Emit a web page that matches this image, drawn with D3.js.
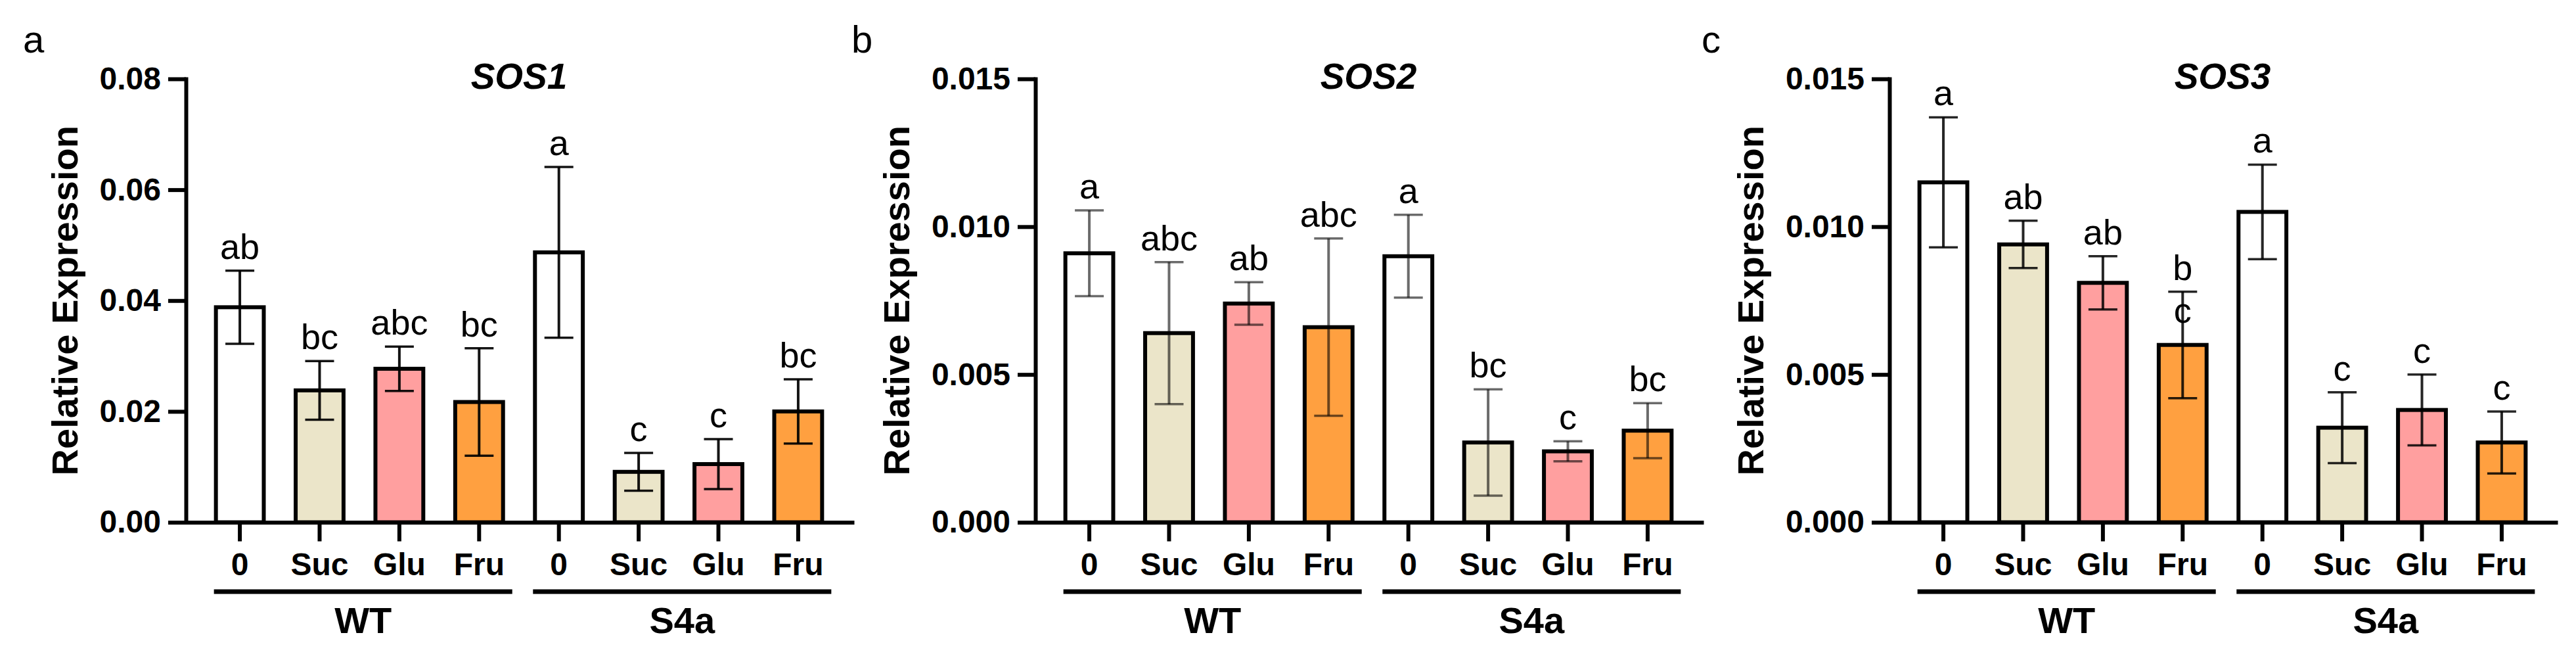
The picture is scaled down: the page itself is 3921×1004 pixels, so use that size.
<!DOCTYPE html>
<html>
<head>
<meta charset="utf-8">
<script src="https://cdn.jsdelivr.net/npm/d3@7"></script>
<style>
  body { margin: 0; background: #fff; }
  svg text { font-family: "Liberation Sans", Arial, Helvetica, sans-serif; }
</style>
</head>
<body>
<svg id="fig" width="3921" height="1004"></svg>
<script>
// ---- data ----
var groups = ["WT", "S4a"];
var treatments = ["0", "Suc", "Glu", "Fru"];
var genes = ["SOS1", "SOS2", "SOS3"];
var panelTags = ["a", "b", "c"];

var sos1Mean = [0.0388, 0.0238, 0.0277, 0.0217, 0.0487, 0.0091, 0.0105, 0.0200];
var sos1Sd   = [0.0066, 0.0053, 0.0040, 0.0097, 0.0154, 0.0034, 0.0045, 0.0058];
var sos1Sig  = ["ab", "bc", "abc", "bc", "a", "c", "c", "bc"];

var sos2Mean = [0.0091, 0.0064, 0.0074, 0.0066, 0.0090, 0.0027, 0.0024, 0.0031];
var sos2Sd   = [0.00145, 0.0024, 0.00072, 0.0030, 0.0014, 0.0018, 0.00034, 0.00093];
var sos2Sig  = ["a", "abc", "ab", "abc", "a", "bc", "c", "bc"];

var sos3Mean = [0.0115, 0.0094, 0.0081, 0.0060, 0.0105, 0.0032, 0.0038, 0.0027];
var sos3Sd   = [0.0022, 0.0008, 0.0009, 0.0018, 0.0016, 0.0012, 0.0012, 0.00105];
var sos3Sig  = ["a", "ab", "ab", "b\nc", "a", "c", "c", "c"];

var sos1Ticks = [0, 0.02, 0.04, 0.06, 0.08];
var sos2Ticks = [0, 0.005, 0.010, 0.015];
var sos3Ticks = [0, 0.005, 0.010, 0.015];

// ---- layout / style ----
var fills = {"0": "#FFFFFF", "Suc": "#EBE5C9", "Glu": "#FF9F9F", "Fru": "#FFA040"};
var panelLeft = [35, 1296, 2590];
var axisX = [283, 1576, 2876];
var errOpacity = [0.92, 0.58, 0.85];
var plotW = 1014, yTop = 120, yBase = 794.5;

var svg = d3.select("#fig");
svg.append("rect").attr("width", 3921).attr("height", 1004).attr("fill", "#fff");

// keys for the band scale, e.g. "WT|Suc"
var keys = [];
groups.forEach(function(g) {
    treatments.forEach(function(t) { keys.push(g + "|" + t); });
});

function drawPanel(i, means, sds, sig, ticks, fmt) {
    var x0 = axisX[i];
    var rows = keys.map(function(k, j) {
        return {key: k, grp: k.split("|")[0], trt: k.split("|")[1],
                mean: means[j], sd: sds[j], sig: sig[j]};
    });

    var x = d3.scaleBand().domain(keys)
        .range([x0, x0 + plotW])
        .paddingInner(0.4).paddingOuter(0.376);
    var y = d3.scaleLinear().domain([0, d3.max(ticks)])
        .range([yBase, yTop]);
    var bw = x.bandwidth();
    var g = svg.append("g");

    // bars
    g.selectAll("rect.bar").data(rows).enter()
        .append("rect").attr("class", "bar")
        .attr("x", d => x(d.key))
        .attr("y", d => y(d.mean))
        .attr("width", bw)
        .attr("height", d => yBase - y(d.mean))
        .attr("fill", d => fills[d.trt])
        .attr("stroke", "#000")
        .attr("stroke-width", 6);

    // error bars (mean +/- sd)
    var eb = g.selectAll("g.err").data(rows).enter()
        .append("g").attr("class", "err")
        .attr("stroke", "#000")
        .attr("stroke-opacity", errOpacity[i]);
    eb.append("line")
        .attr("x1", d => x(d.key) + bw / 2).attr("x2", d => x(d.key) + bw / 2)
        .attr("y1", d => y(d.mean - d.sd)).attr("y2", d => y(d.mean + d.sd))
        .attr("stroke-width", 4);
    [1, -1].forEach(function(s) {
        eb.append("line")
            .attr("x1", d => x(d.key) + bw / 2 - 22).attr("x2", d => x(d.key) + bw / 2 + 22)
            .attr("y1", d => y(d.mean + s * d.sd)).attr("y2", d => y(d.mean + s * d.sd))
            .attr("stroke-width", 3.5);
    });

    // significance letters, wrapped ones run downward
    var lt = g.selectAll("text.sig").data(rows).enter()
        .append("text").attr("class", "sig")
        .attr("x", d => x(d.key) + bw / 2)
        .attr("y", d => y(d.mean + d.sd) - 18)
        .attr("text-anchor", "middle")
        .attr("font-size", 54);
    lt.each(function(d) {
        var t = d3.select(this);
        d.sig.split("\n").forEach(function(s, k) {
            t.append("tspan").attr("x", x(d.key) + bw / 2)
                .attr("dy", k ? "1.2em" : 0).text(s);
        });
    });

    // y axis
    var gy = svg.append("g").attr("transform", "translate(" + x0 + ",0)")
        .call(d3.axisLeft(y).tickValues(ticks).tickFormat(d3.format(fmt))
              .tickSize(27).tickSizeOuter(0).tickPadding(11));
    gy.select(".domain").attr("stroke-width", 6).attr("stroke-linecap", "square");
    gy.selectAll(".tick line").attr("stroke-width", 6);
    gy.selectAll("text").attr("font-size", 48).attr("font-weight", "bold")
        .attr("font-family", null);

    // x axis
    var gx = svg.append("g").attr("transform", "translate(0," + yBase + ")")
        .call(d3.axisBottom(x).tickFormat(d => d.split("|")[1])
              .tickSize(29).tickSizeOuter(0).tickPadding(17));
    gx.select(".domain").attr("stroke-width", 6).attr("stroke-linecap", "square");
    gx.selectAll(".tick line").attr("stroke-width", 6);
    gx.selectAll("text").attr("font-size", 48).attr("font-weight", "bold")
        .attr("font-family", null);

    // y title sits a fixed gap left of the tick labels
    var bb = gy.node().getBBox();
    var tx = x0 + bb.x - 34;
    svg.append("text")
        .attr("transform", "translate(" + tx + "," + (yTop + yBase) / 2 + ") rotate(-90)")
        .attr("text-anchor", "middle")
        .attr("font-size", 56).attr("font-weight", "bold")
        .text("Relative Expression");

    // group underlines and names
    groups.forEach(function(gr) {
        var ks = keys.filter(k => k.split("|")[0] == gr);
        var xa = x(ks[0]) - 3, xb = x(ks[ks.length - 1]) + bw + 14;
        svg.append("line")
            .attr("x1", xa).attr("x2", xb).attr("y1", 900).attr("y2", 900)
            .attr("stroke", "#000").attr("stroke-width", 7);
        svg.append("text")
            .attr("x", (xa + xb) / 2).attr("y", 963)
            .attr("text-anchor", "middle")
            .attr("font-size", 56).attr("font-weight", "bold")
            .text(gr);
    });

    // gene title and panel tag
    svg.append("text")
        .attr("x", x0 + plotW / 2).attr("y", 135)
        .attr("text-anchor", "middle")
        .attr("font-size", 55).attr("font-weight", "bold").attr("font-style", "italic")
        .text(genes[i]);
    svg.append("text")
        .attr("x", panelLeft[i]).attr("y", 80)
        .attr("font-size", 58)
        .text(panelTags[i]);
}

drawPanel(0, sos1Mean, sos1Sd, sos1Sig, sos1Ticks, ".2f");
drawPanel(1, sos2Mean, sos2Sd, sos2Sig, sos2Ticks, ".3f");
drawPanel(2, sos3Mean, sos3Sd, sos3Sig, sos3Ticks, ".3f");
</script>
</body>
</html>
